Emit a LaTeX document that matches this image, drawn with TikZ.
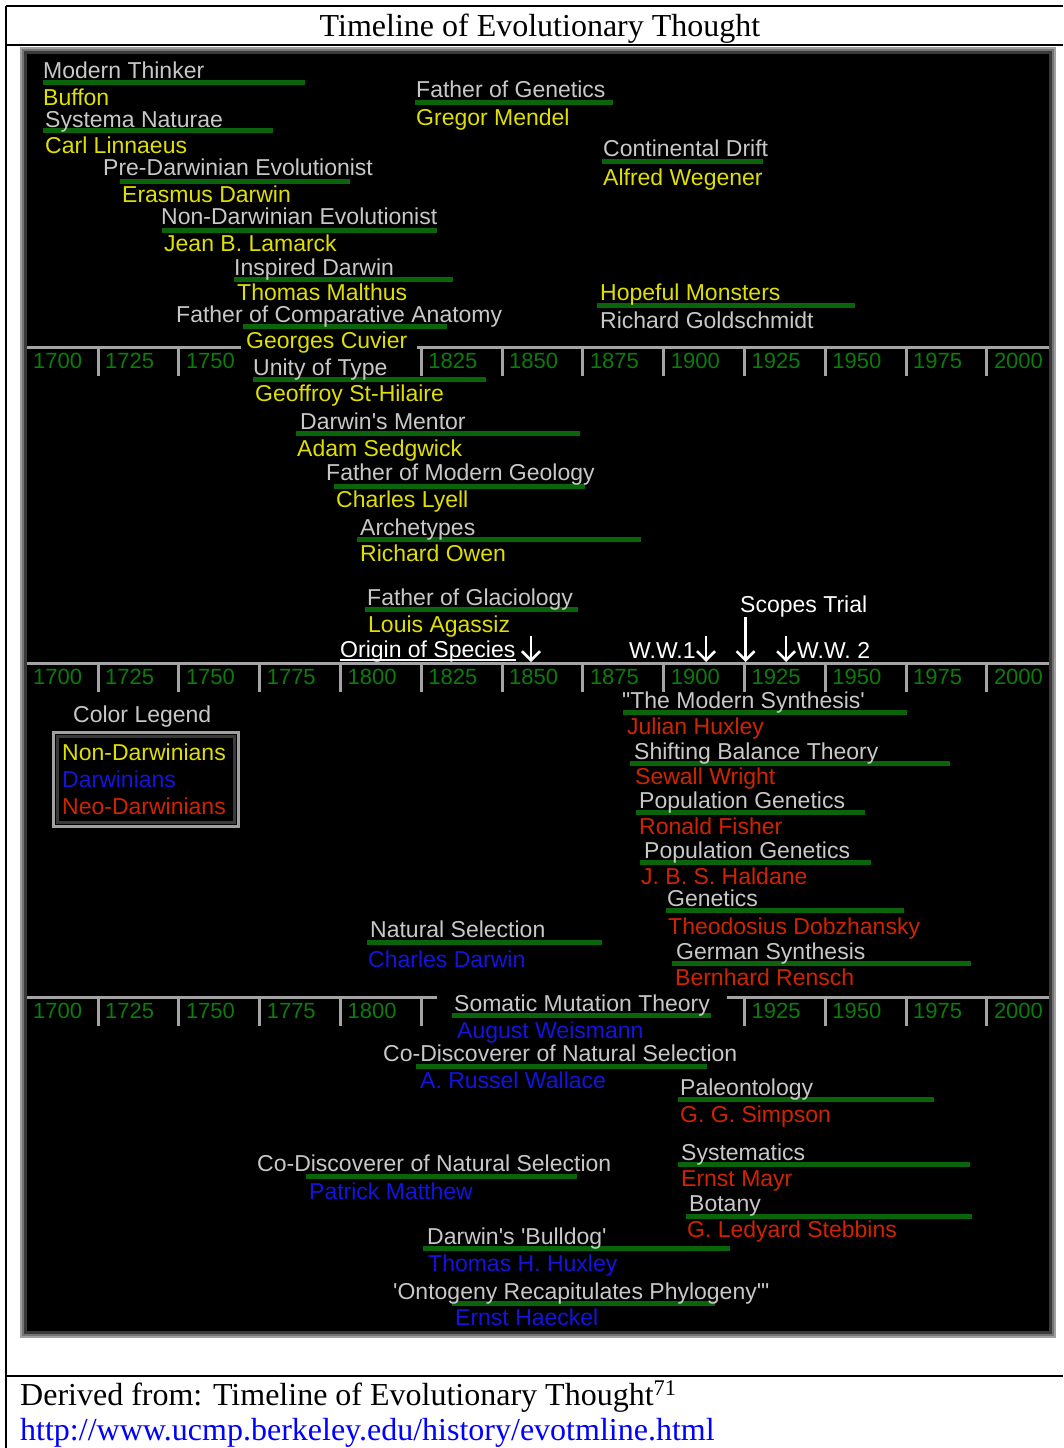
\documentclass[tikz,border=0pt]{standalone}
\usepackage{fontspec}
\setmainfont{Liberation Serif}
\newfontfamily\labfont{Liberation Sans}
\usetikzlibrary{arrows.meta}

\definecolor{rolegray}{HTML}{C8C8C8}
\definecolor{ndyellow}{HTML}{E0E000}
\definecolor{dwblue}{HTML}{1414E0}
\definecolor{neored}{HTML}{D02400}
\definecolor{bargreen}{HTML}{0A640A}
\definecolor{yeargreen}{HTML}{0C7C0C}
\definecolor{axisgray}{HTML}{A4A4A4}
\definecolor{frameA}{HTML}{A0A0A0}
\definecolor{frameB}{HTML}{747474}
\definecolor{frameC}{HTML}{3A3A3A}
\definecolor{urlblue}{HTML}{0000FF}

% one row of year labels with their tick marks; #1 row name, #2 axis y, #3 list of steps
\newcommand\axisyears[3]{%
  \foreach \k in {#3}{%
    \pgfmathsetmacro\tx{17.2+80.8*\k}%
    \pgfmathtruncatemacro\yr{1700+25*\k}%
    \ifnum\k=0
      \node[yearlab] (#1-\yr) at (33,{#2+21}) {\yr};
    \else
      \draw[tickmark] (\tx,#2) -- (\tx,{#2+29});
      \node[yearlab] (#1-\yr) at ({\tx+7},{#2+21}) {\yr};
    \fi
  }%
}

\begin{document}
\begin{tikzpicture}[x=1pt,y=-1pt,
  lab/.style={anchor=base west, inner sep=0pt, font={\labfont\fontsize{23}{27}\selectfont}},
  role/.style={lab, text=rolegray},
  nd/.style={lab, text=ndyellow},
  dw/.style={lab, text=dwblue},
  neo/.style={lab, text=neored},
  event/.style={lab, text=white},
  yearlab/.style={anchor=base west, inner sep=0pt, font={\labfont\fontsize{22}{26}\selectfont}, text=yeargreen},
  span/.style={draw=bargreen, line width=5pt},
  tickmark/.style={draw=axisgray, line width=3pt},
  axisline/.style={draw=axisgray, line width=3pt},
  eventarrow/.style={draw=white, line width=2.5pt, -{Straight Barb[length=9pt,width=18pt,line width=2.5pt]}},
  rule/.style={draw=black, line width=2pt},
  serif/.style={inner sep=0pt, font={\fontsize{32}{36}\selectfont}}
]
\useasboundingbox (0,0) rectangle (1063,1448);
\fill[white] (0,0) rectangle (1063,1448);

% table rules
\draw[rule] (6,6) -- (1063,6);
\draw[rule] (6,6) -- (6,1448);
\draw[rule] (6,45) -- (1063,45);
\draw[rule] (6,1376) -- (1063,1376);

\node[serif, anchor=base] (title) at (540,36) {Timeline of Evolutionary Thought};

% framed black panel
\fill[frameA] (20,47) rectangle (1056,1338);
\fill[frameB] (22,49) rectangle (1054,1336);
\fill[frameC] (24,51) rectangle (1052,1334);
\fill[black] (27,54) rectangle (1049,1331);

% time axes
\draw[axisline] (27,347) -- (241,347);
\draw[axisline] (417,347) -- (1049,347);
\axisyears{ra}{347}{0,1,2,5,6,7,8,9,10,11,12}
\draw[axisline] (27,663) -- (1049,663);
\axisyears{rb}{663}{0,1,2,3,4,5,6,7,8,9,10,11,12}
\draw[axisline] (27,997) -- (437,997);
\draw[axisline] (727,997) -- (1049,997);
\axisyears{rc}{997}{0,1,2,3,4,9,10,11,12}
\draw[tickmark] (421.2,997) -- (421.2,1026);

% life-span bars
\draw[span] (43,82) -- (305,82);
\draw[span] (43,130) -- (273,130);
\draw[span] (120,181) -- (350,181);
\draw[span] (162,230) -- (437,230);
\draw[span] (234,279) -- (453,279);
\draw[span] (243,326) -- (447,326);
\draw[span] (415,102) -- (613,102);
\draw[span] (602,161) -- (763,161);
\draw[span] (597,305) -- (855,305);
\draw[span] (253,379) -- (486,379);
\draw[span] (296,433) -- (580,433);
\draw[span] (334,486) -- (585,486);
\draw[span] (357,539) -- (641,539);
\draw[span] (365,609) -- (578,609);
\draw[span] (623,712) -- (907,712);
\draw[span] (630,763) -- (950,763);
\draw[span] (636,812) -- (865,812);
\draw[span] (640,862) -- (871,862);
\draw[span] (666,910) -- (904,910);
\draw[span] (672,963) -- (971,963);
\draw[span] (367,942) -- (602,942);
\draw[span] (452,1015) -- (711,1015);
\draw[span] (416,1066) -- (707,1066);
\draw[span] (678,1099) -- (934,1099);
\draw[span] (306,1176) -- (577,1176);
\draw[span] (678,1164) -- (970,1164);
\draw[span] (686,1216) -- (972,1216);
\draw[span] (423,1248) -- (730,1248);
\draw[span] (452,1303) -- (715,1303);

% upper block
\node[role] (r1) at (43,78) {Modern Thinker};
\node[nd] (p1) at (43,105) {Buffon};
\node[role] (r2) at (45,127) {Systema Naturae};
\node[nd] (p2) at (45,153) {Carl Linnaeus};
\node[role] (r3) at (103,175) {Pre-Darwinian Evolutionist};
\node[nd] (p3) at (122,202) {Erasmus Darwin};
\node[role] (r4) at (161,224) {Non-Darwinian Evolutionist};
\node[nd] (p4) at (164,251) {Jean B. Lamarck};
\node[role] (r5) at (234,275) {Inspired Darwin};
\node[nd] (p5) at (237,300) {Thomas Malthus};
\node[role] (r6) at (176,322) {Father of Comparative Anatomy};
\node[nd] (p6) at (246,348) {Georges Cuvier};
\node[role] (r7) at (416,97) {Father of Genetics};
\node[nd] (p7) at (416,125) {Gregor Mendel};
\node[role] (r8) at (603,156) {Continental Drift};
\node[nd] (p8) at (603,185) {Alfred Wegener};
\node[nd] (r9) at (600,300) {Hopeful Monsters};
\node[role] (p9) at (600,328) {Richard Goldschmidt};

% second block
\node[role] (r10) at (253,375) {Unity of Type};
\node[nd] (p10) at (255,401) {Geoffroy St-Hilaire};
\node[role] (r11) at (300,429) {Darwin's Mentor};
\node[nd] (p11) at (297,456) {Adam Sedgwick};
\node[role] (r12) at (326,480) {Father of Modern Geology};
\node[nd] (p12) at (336,507) {Charles Lyell};
\node[role] (r13) at (360,535) {Archetypes};
\node[nd] (p13) at (360,561) {Richard Owen};
\node[role] (r14) at (367,605) {Father of Glaciology};
\node[nd] (p14) at (368,632) {Louis Agassiz};

% events
\node[event] (origin) at (340,657) {Origin of Species};
\draw[white, line width=1.5pt] ([yshift=-3pt]origin.base west) -- ([yshift=-3pt]origin.base east);
\node[event] (scopes) at (740,612) {Scopes Trial};
\node[event] (ww1) at (629,658) {W.W.1};
\node[event] (ww2) at (797,658) {W.W. 2};
\coordinate (originTop) at (531,636);
\coordinate (originTip) at (531,662);
\coordinate (ww1Top) at (706,636);
\coordinate (ww1Tip) at (706,662);
\coordinate (scopesTop) at (745.5,617);
\coordinate (scopesTip) at (745.5,662);
\coordinate (ww2Top) at (786,636);
\coordinate (ww2Tip) at (786,662);
\draw[eventarrow] (originTop) -- (originTip);
\draw[eventarrow] (ww1Top) -- (ww1Tip);
\draw[eventarrow] (scopesTop) -- (scopesTip);
\draw[eventarrow] (ww2Top) -- (ww2Tip);

% colour legend
\node[role] (legendtitle) at (73,722) {Color Legend};
\draw[draw=frameA, line width=3pt] (53,732) rectangle (238,826);
\draw[draw=frameC, line width=3pt] (57,736) rectangle (234,822);
\node[nd] (lgnd) at (62,760) {Non-Darwinians};
\node[dw] (lgdw) at (62,787) {Darwinians};
\node[neo] (lgneo) at (62,814) {Neo-Darwinians};

% third block
\node[role] (r15) at (622,708) {"The Modern Synthesis'};
\node[neo] (p15) at (627,734) {Julian Huxley};
\node[role] (r16) at (634,759) {Shifting Balance Theory};
\node[neo] (p16) at (635,784) {Sewall Wright};
\node[role] (r17) at (639,808) {Population Genetics};
\node[neo] (p17) at (639,834) {Ronald Fisher};
\node[role] (r18) at (644,858) {Population Genetics};
\node[neo] (p18) at (641,884) {J. B. S. Haldane};
\node[role] (r19) at (667,906) {Genetics};
\node[neo] (p19) at (668,934) {Theodosius Dobzhansky};
\node[role] (r20) at (676,959) {German Synthesis};
\node[neo] (p20) at (675,985) {Bernhard Rensch};
\node[role] (r21) at (370,937) {Natural Selection};
\node[dw] (p21) at (368,967) {Charles Darwin};

% fourth block
\node[role] (r22) at (454,1011) {Somatic Mutation Theory};
\node[dw] (p22) at (457,1038) {August Weismann};
\node[role] (r23) at (383,1061) {Co-Discoverer of Natural Selection};
\node[dw] (p23) at (420,1088) {A. Russel Wallace};
\node[role] (r24) at (680,1095) {Paleontology};
\node[neo] (p24) at (680,1122) {G. G. Simpson};
\node[role] (r25) at (257,1171) {Co-Discoverer of Natural Selection};
\node[dw] (p25) at (309,1199) {Patrick Matthew};
\node[role] (r26) at (681,1160) {Systematics};
\node[neo] (p26) at (681,1186) {Ernst Mayr};
\node[role] (r27) at (689,1211) {Botany};
\node[neo] (p27) at (687,1237) {G. Ledyard Stebbins};
\node[role] (r28) at (427,1244) {Darwin's 'Bulldog'};
\node[dw] (p28) at (428,1271) {Thomas H. Huxley};
\node[role] (r29) at (393,1299) {'Ontogeny Recapitulates Phylogeny'"};
\node[dw] (p29) at (455,1325) {Ernst Haeckel};

% source line
\node[serif, anchor=base west] (source) at (20,1405) {Derived from: Timeline of Evolutionary Thought\textsuperscript{71}};
\node[serif, anchor=base west, text=urlblue] (link) at (20,1440) {http://www.ucmp.berkeley.edu/history/evotmline.html};
\end{tikzpicture}
\end{document}
